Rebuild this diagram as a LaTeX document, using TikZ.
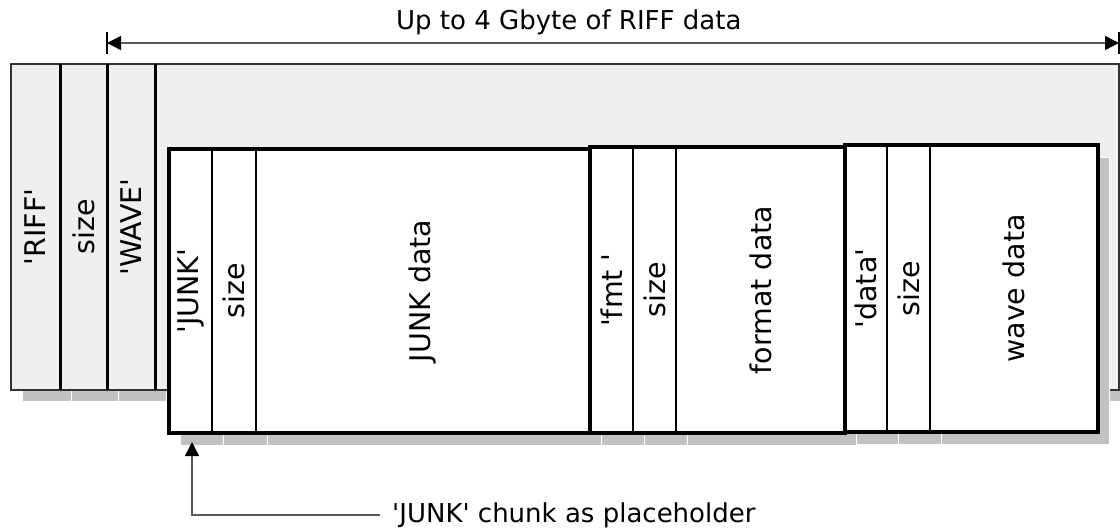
\documentclass[tikz,border=0pt]{standalone}
\usepackage{fontspec}
\setmainfont{DejaVu Sans}[Ligatures=TeXOff]
\usetikzlibrary{arrows.meta}
\definecolor{boxgray}{HTML}{EFEFEF}
\definecolor{shadowgray}{HTML}{C2C2C2}
\begin{document}
\begin{tikzpicture}[x=1pt,y=-1pt,
  font=\fontsize{26}{31}\selectfont,
  shadowbox/.style={fill=shadowgray, draw=white, line width=1},
  outerfield/.style={fill=boxgray, draw=none, inner sep=0, outer sep=0, anchor=north west, minimum height=326},
  innerfield/.style={fill=white, draw=black, line width=2.5, inner sep=0, outer sep=0, anchor=north west},
  chunkframe/.style={draw=black, line width=4, inner sep=0, outer sep=0, anchor=north west},
  divider/.style={draw=black, line width=3},
  lbl/.style={rotate=90, inner sep=0, font=\fontsize{28.5}{32}\selectfont},
  dimline/.style={draw=black!65, line width=1.5},
  tiptri/.tip={Triangle[length=14pt,width=14pt,color=black]}
]
\useasboundingbox (0,0) rectangle (1120,532);

% outer shadows
\path[shadowbox] (22,75) rectangle (71,401);
\path[shadowbox] (71,75) rectangle (118,401);
\path[shadowbox] (118,75) rectangle (166,401);
\path[shadowbox] (166,75) rectangle (1121,401);

% outer RIFF fields
\node[outerfield, minimum width=49] (riff) at (11,64) {};
\node[outerfield, minimum width=47] (osize) at (60,64) {};
\node[outerfield, minimum width=48] (wave) at (107,64) {};
\node[outerfield, minimum width=964] (rest) at (155,64) {};
\draw[line width=2, draw=black!80] (riff.north west) rectangle (rest.south east);
\draw[divider] (osize.north west) -- (osize.south west);
\draw[divider] (wave.north west) -- (wave.south west);
\draw[divider] (rest.north west) -- (rest.south west);

\node[lbl] (lriff) at (riff.center) {'RIFF'};
\node[lbl] (losize) at (osize.center) {size};
\node[lbl] (lwave) at (wave.center) {'WAVE'};

% inner shadows
\path[shadowbox] (180,160) rectangle (223,445);
\path[shadowbox] (223,160) rectangle (267,445);
\path[shadowbox] (267,160) rectangle (601,445);
\path[shadowbox] (601,159) rectangle (644,445);
\path[shadowbox] (644,159) rectangle (687,445);
\path[shadowbox] (687,159) rectangle (856,445);
\path[shadowbox] (856,158) rectangle (898,444);
\path[shadowbox] (898,158) rectangle (941,444);
\path[shadowbox] (941,158) rectangle (1109,444);

% JUNK chunk
\node[innerfield, minimum width=43, minimum height=284] (junktag) at (169,149) {};
\node[innerfield, minimum width=44, minimum height=284] (jsize) at (212,149) {};
\node[innerfield, minimum width=334, minimum height=284] (jdata) at (256,149) {};
\node[chunkframe, minimum width=421, minimum height=284] (junkchunk) at (169,149) {};

% fmt chunk
\node[innerfield, minimum width=43, minimum height=286] (fmttag) at (590,147) {};
\node[innerfield, minimum width=43, minimum height=286] (fsize) at (633,147) {};
\node[innerfield, minimum width=169, minimum height=286] (fdata) at (676,147) {};
\node[chunkframe, minimum width=255, minimum height=286] (fmtchunk) at (590,147) {};

% data chunk
\node[innerfield, minimum width=42, minimum height=287] (datatag) at (845,145) {};
\node[innerfield, minimum width=43, minimum height=287] (dsize) at (887,145) {};
\node[innerfield, minimum width=168, minimum height=287] (ddata) at (930,145) {};
\node[chunkframe, minimum width=253, minimum height=287] (datachunk) at (845,145) {};

\node[lbl] (ljunktag) at (junktag.center) {'JUNK'};
\node[lbl] (ljsize) at (jsize.center) {size};
\node[lbl] (ljdata) at (jdata.center) {JUNK data};
\node[lbl] (lfmttag) at (fmttag.center) {'fmt '};
\node[lbl] (lfsize) at (fsize.center) {size};
\node[lbl] (lfdata) at (fdata.center) {format data};
\node[lbl] (ldatatag) at (datatag.center) {'data'};
\node[lbl] (ldsize) at (dsize.center) {size};
\node[lbl] (lddata) at (ddata.center) {wave data};

% dimension arrow
\node[anchor=base west, inner sep=0] (title) at (396,30) {Up to 4 Gbyte of RIFF data};
\coordinate (dimL) at (107,43);
\coordinate (dimR) at (1119,43);
\draw[dimline, tiptri-tiptri] (dimL) -- (dimR);
\draw[line width=2] (dimL) ++(0,-11) -- ++(0,22);
\draw[line width=2] (dimR) ++(0,-11) -- ++(0,22);

% callout
\node[anchor=base west, inner ysep=0, inner xsep=12pt] (callText) at (380,522) {'JUNK' chunk as placeholder};
\coordinate (callTip) at (192,442);
\draw[dimline, -tiptri] (callText.west) -| (callTip);
\end{tikzpicture}
\end{document}
